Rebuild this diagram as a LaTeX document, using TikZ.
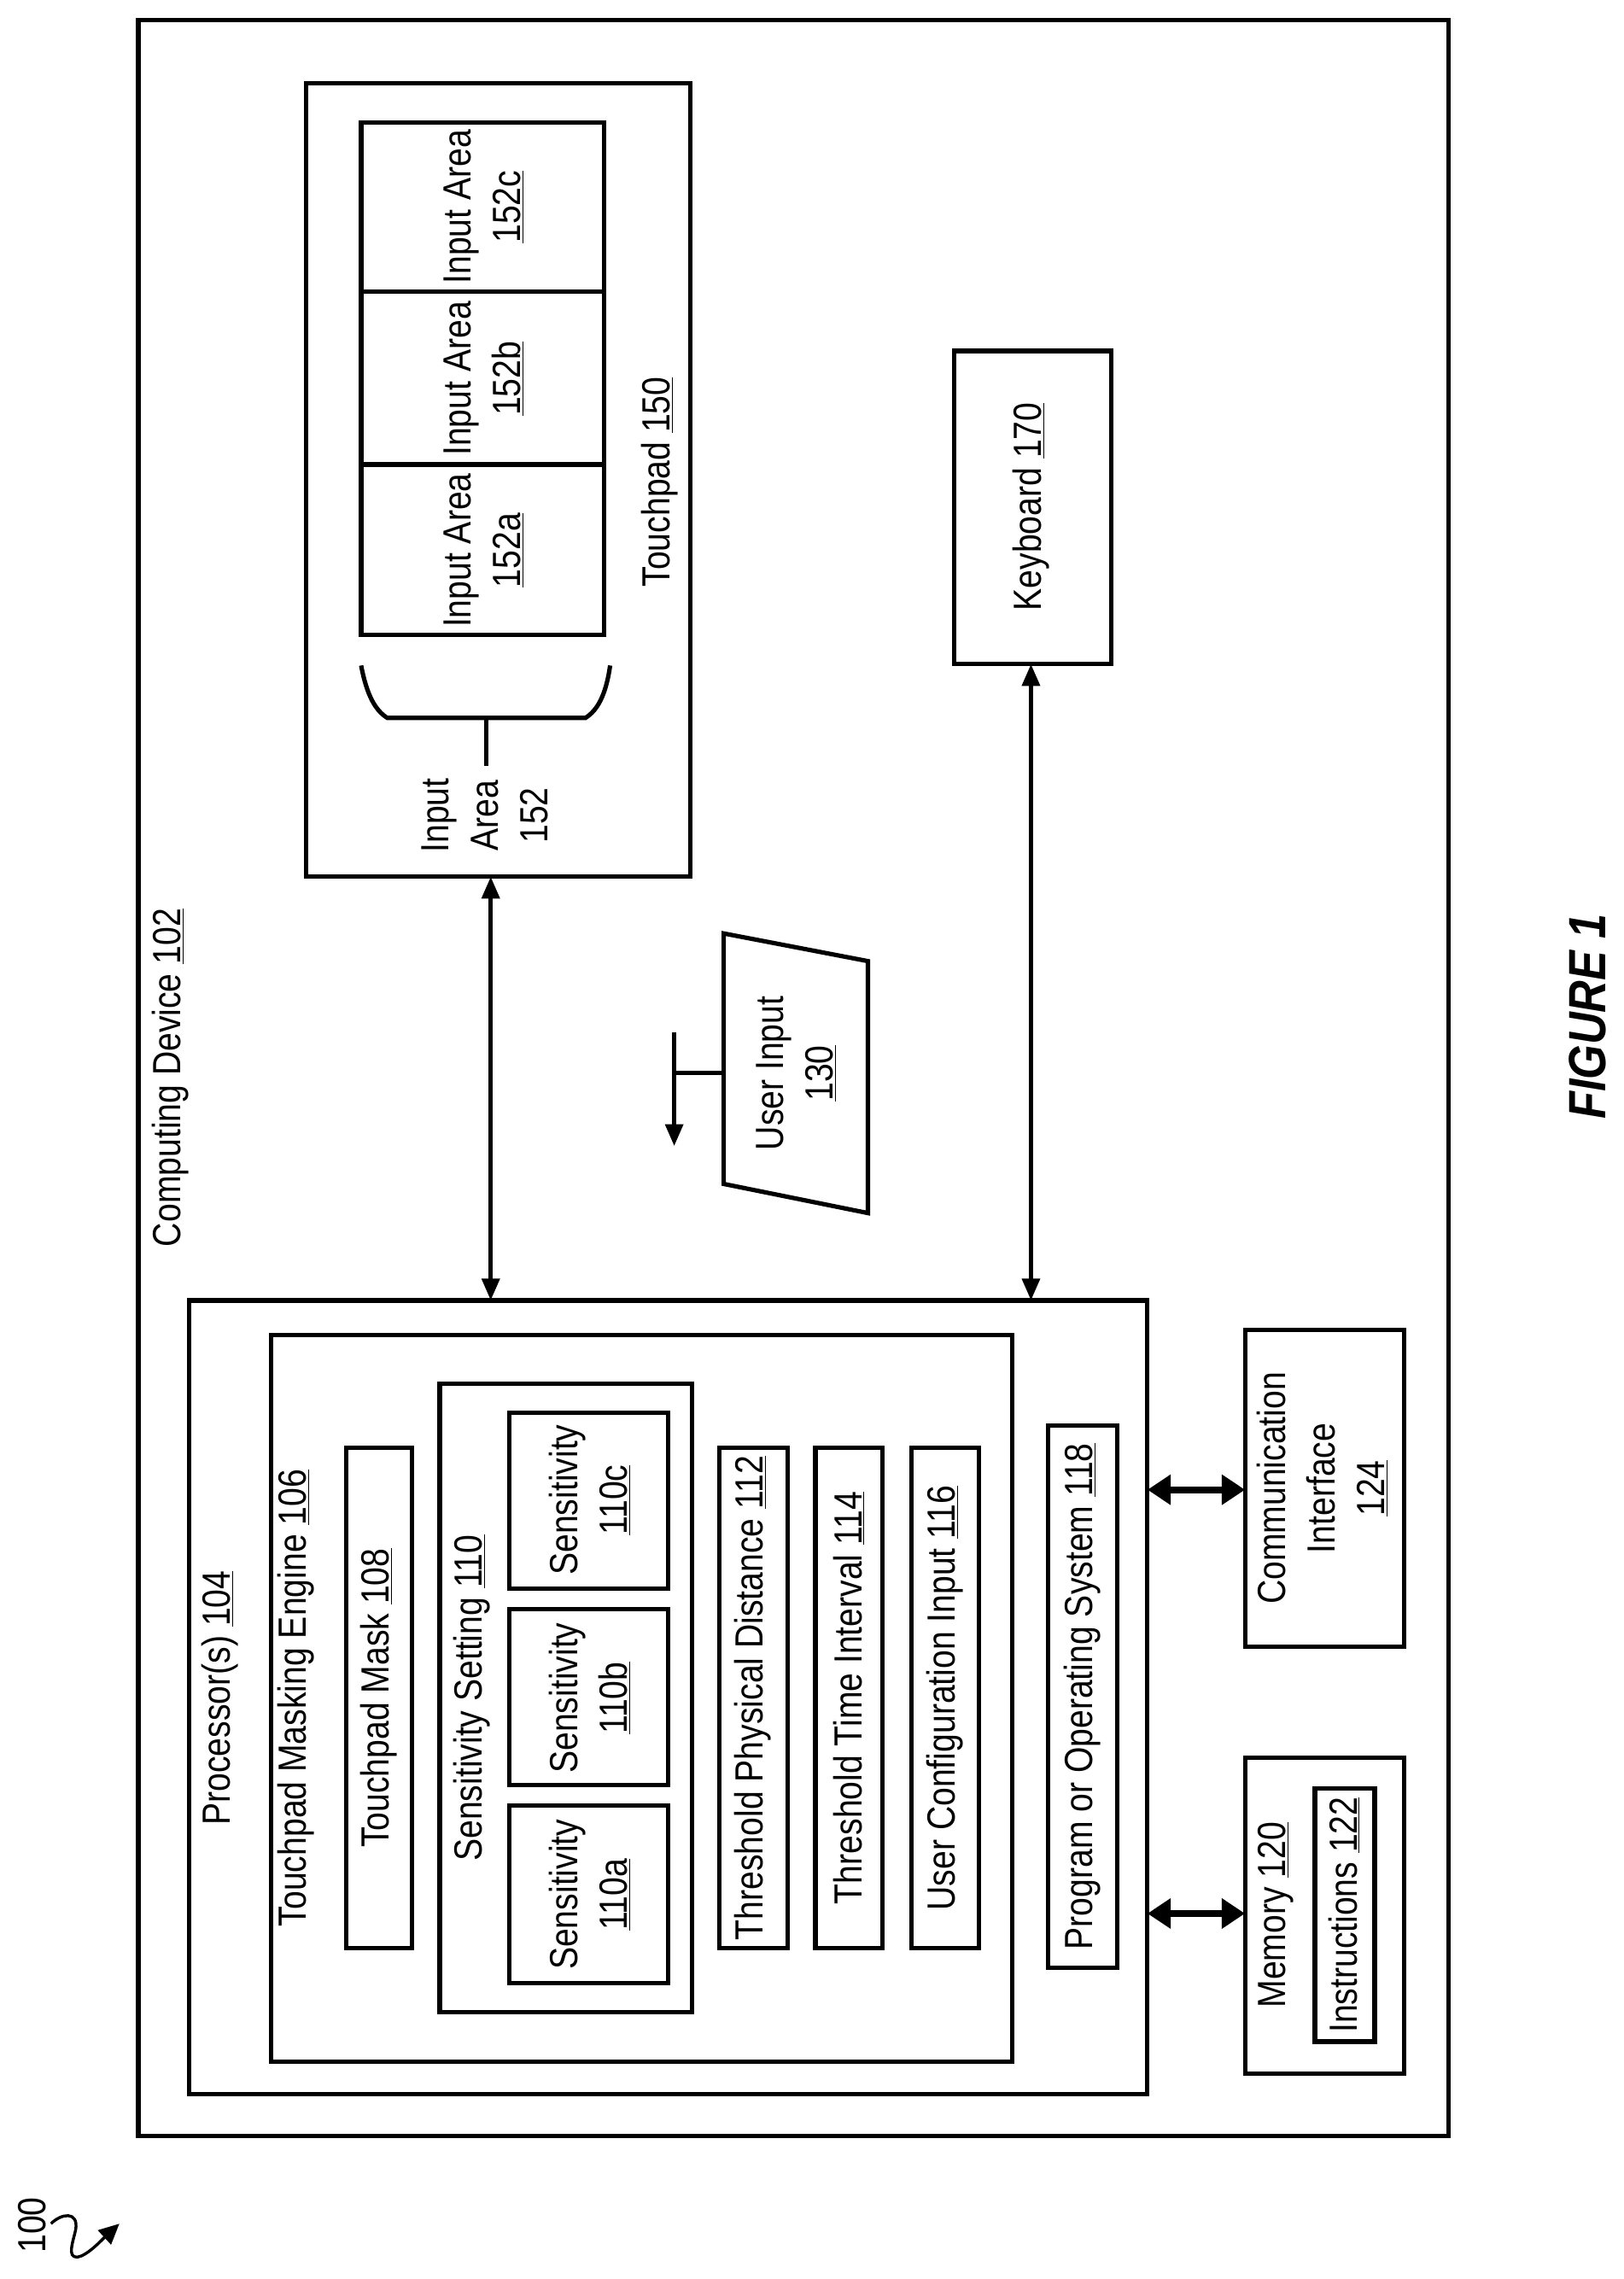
\documentclass[tikz,border=0pt]{standalone}
\usepackage{fontspec}
\setmainfont{Liberation Sans}[FakeStretch=0.85]
\usetikzlibrary{arrows.meta}
\newcommand{\ul}[1]{\underline{#1}}
\begin{document}
\begin{tikzpicture}[x=1pt,y=-1pt,
  box/.style={draw,line width=3pt},
  txt/.style={rotate=90,align=center,inner sep=0,font=\fontsize{27}{34}\selectfont},
  dar/.style={line width=3pt,{Triangle[length=15pt,width=12pt]}-{Triangle[length=15pt,width=12pt]}},
  har/.style={line width=4.5pt,{Triangle[length=16pt,width=20pt]}-{Triangle[length=16pt,width=20pt]}}]
\useasboundingbox (0,0) rectangle (1115,1565);
% outer
\draw[box] (95,14) rectangle (995,1467);
\node[txt] (cdl) at (117,740) {Computing Device \ul{102}};
% touchpad
\draw[box] (210,57) rectangle (474,602);
\coordinate (tp) at (337,602);
\node[txt] (tpl) at (453,331) {Touchpad \ul{150}};
\draw[box] (248,84) rectangle (415,436);
\draw[box] (248,200) -- (415,200);
\draw[box] (248,319) -- (415,319);
\node[txt] (ia3) at (332,142) {Input Area\\\ul{152c}};
\node[txt] (ia2) at (332,260) {Input Area\\\ul{152b}};
\node[txt] (ia1) at (332,378) {Input Area\\\ul{152a}};
\draw[line width=3pt] (248,457) .. controls (252,478) and (258,488) .. (266,493) -- (402,493) .. controls (410,488) and (416,478) .. (419,457);
\draw[line width=3pt] (334,493) -- (334,526);
\node[txt] (ial) at (333,560) {Input\\Area\\152};
% keyboard
\draw[box] (655,241) rectangle (763,456);
\coordinate (kb) at (708,456);
\node[txt] (kbl) at (708,348) {Keyboard \ul{170}};
% user input
\draw[box] (497,641) -- (596,660) -- (596,833) -- (497,813) -- cycle;
\node[txt] (uil) at (547,737) {User Input\\\ul{130}};
\draw[line width=3pt] (497,737) -- (463,737);
\draw[line width=3pt,-{Triangle[length=15pt,width=12pt]}] (463,709) -- (463,787);
% processor
\draw[box] (130,893) rectangle (788,1438);
\coordinate (pt1) at (337,893);
\coordinate (pt2) at (708,893);
\coordinate (pr1) at (788,1023);
\coordinate (pr2) at (788,1314);
\node[txt] (prl) at (151,1166) {Processor(s) \ul{104}};
\draw[box] (186,917) rectangle (695,1416);
\node[txt] (tme) at (203,1166) {Touchpad Masking Engine \ul{106}};
\draw[box] (238,994) rectangle (283,1338);
\node[txt] (tm) at (260,1166) {Touchpad Mask \ul{108}};
\draw[box] (302,950) rectangle (475,1382);
\node[txt] (ss) at (324,1166) {Sensitivity Setting \ul{110}};
\draw[box] (350,970) rectangle (459,1091);
\draw[box] (350,1105) rectangle (459,1226);
\draw[box] (350,1240) rectangle (459,1362);
\node[txt] (s3) at (405,1030) {Sensitivity\\\ul{110c}};
\node[txt] (s2) at (405,1166) {Sensitivity\\\ul{110b}};
\node[txt] (s1) at (405,1301) {Sensitivity\\\ul{110a}};
\draw[box] (494,994) rectangle (541,1338);
\node[txt] (t1) at (517,1166) {Threshold Physical Distance \ul{112}};
\draw[box] (560,994) rectangle (606,1338);
\node[txt] (t2) at (583,1166) {Threshold Time Interval \ul{114}};
\draw[box] (626,994) rectangle (672,1338);
\node[txt] (t3) at (649,1166) {User Configuration Input \ul{116}};
\draw[box] (720,979) rectangle (767,1351);
\node[txt] (pos) at (743,1165) {Program or Operating System \ul{118}};
% comm
\draw[box] (855,913) rectangle (964,1131);
\coordinate (cm) at (855,1023);
\node[txt] (cml) at (908,1022) {Communication\\Interface\\\ul{124}};
% memory
\draw[box] (855,1207) rectangle (964,1424);
\coordinate (mm) at (855,1314);
\node[txt] (mml) at (876,1315) {Memory \ul{120}};
\draw[box] (903,1228) rectangle (944,1402);
\node[txt] (ins) at (923,1315) {Instructions \ul{122}};
% arrows
\draw[dar] (tp) -- (pt1);
\draw[dar] (kb) -- (pt2);
\draw[har] (pr1) -- (cm);
\draw[har] (pr2) -- (mm);
% figure
\node[rotate=90,inner sep=0,font=\fontsize{36}{40}\selectfont\bfseries\itshape] (fig) at (1090,698) {FIGURE 1};
\node[txt] (n100) at (22,1528) {100};
\coordinate (sq0) at (35,1527);
\coordinate (sq1) at (82,1527);
\draw[line width=2pt,-{Triangle[length=14pt,width=13pt]}] (sq0) .. controls (42,1520) and (54,1518) .. (52,1531) .. controls (50,1540) and (46,1550) .. (53,1550) .. controls (60,1549) and (70,1538) .. (sq1);
\end{tikzpicture}
\end{document}
